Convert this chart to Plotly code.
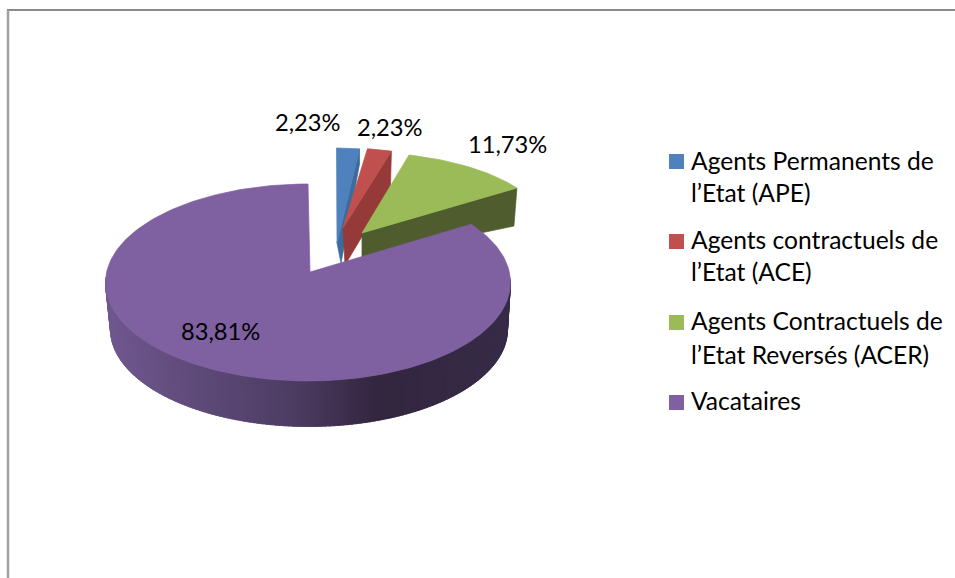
import numpy as np
import plotly.graph_objects as go

# ---- data ----
categories = ["Agents Permanents de l’Etat (APE)", "Agents contractuels de l’Etat (ACE)",
              "Agents Contractuels de l’Etat Reversés (ACER)", "Vacataires"]
values = [2.23, 2.23, 11.73, 83.81]
legend_lines = [["Agents Permanents de", "l’Etat (APE)"],
                ["Agents contractuels de", "l’Etat (ACE)"],
                ["Agents Contractuels de", "l’Etat Reversés (ACER)"],
                ["Vacataires"]]

# ---- style / projection (pixel space) ----
FONT = "Lato"
FS_LEG = 24.6
FS_LAB = 23.7
TOP = ["#4f81bd", "#c0504d", "#9bbb59", "#7f60a0"]
SIDE = ["#3e6b9e", "#953a38", "#4e5c2e", None]
LABEL_POS = [(308, 122), (390, 127), (507, 144), (220, 331)]
LEG_SQ_Y = [161.5, 241.5, 322.5, 402.5]
LEG_TXT_Y = [[160, 192], [239, 271], [320, 354], [400]]

PROJ = [
    dict(c=(336.5, 239), r=(165, 91), apex=(337, 243), d_out=(0, 15), d_apex=(4, 20)),
    dict(c=(343, 228), r=(175, 80), apex=(343, 228), d_out=(-1, 38), d_apex=(2, 37)),
    dict(c=(357, 228), r=(188, 76), apex=(362, 233), d_out=(-3, 38), d_apex=(0, 25)),
    dict(c=(308, 282.5), r=(202.5, 98.5), apex=(310, 272), shift=-4.6),
]
BOTTOM = dict(c=(309, 329.5), r=(198.5, 97))
WALL_STOPS = [(110, (0x70, 0x58, 0x90)), (300, (0x4b, 0x3b, 0x60)),
              (375, (0x33, 0x26, 0x3f)), (510, (0x37, 0x2c, 0x48))]


def ell(g, t):
    t = np.radians(t)
    return g["c"][0] + g["r"][0] * np.sin(t), g["c"][1] - g["r"][1] * np.cos(t)


def poly(x, y, color, lw=0.7):
    return go.Scatter(x=list(x), y=list(y), mode="lines", fill="toself", fillcolor=color,
                      line=dict(color=color, width=lw), hoverinfo="skip", showlegend=False)


fig = go.Figure()

# slice angles come from the values
fracs = np.array(values) / sum(values) * 360
starts = np.concatenate([[0], np.cumsum(fracs)[:-1]])
ends = np.cumsum(fracs)

# exploded slices: cut face first, then top
for i in range(3):
    g = PROJ[i]
    t = np.linspace(starts[i], ends[i], 30)
    ox, oy = ell(g, t)
    ax, ay = g["apex"]
    fig.add_trace(poly([ax, ox[-1], ox[-1] + g["d_out"][0], ax + g["d_apex"][0], ax],
                       [ay, oy[-1], oy[-1] + g["d_out"][1], ay + g["d_apex"][1], ay], SIDE[i]))
    fig.add_trace(poly(np.r_[ax, ox, ax], np.r_[ay, oy, ay], TOP[i]))

# large slice wall with a horizontal shading
g = PROJ[3]
sx = [s[0] for s in WALL_STOPS]
edges = np.linspace(88, 272, 141)
for a, b in zip(edges[:-1], edges[1:]):
    seg = np.linspace(a, b + 1.0, 3)
    x1, y1 = ell(g, seg)
    x2, y2 = ell(BOTTOM, seg)
    xm = x2.mean()
    rgb = [np.interp(xm, sx, [s[1][k] for s in WALL_STOPS]) for k in range(3)]
    col = "rgb(%d,%d,%d)" % tuple(rgb)
    fig.add_trace(poly(np.r_[x1, x2[::-1], x1[0]], np.r_[y1, y2[::-1], y1[0]], col, lw=0.7))

# large slice top
t = np.linspace(0, 1, 240)
theta = starts[3] + g["shift"] * (1 - t) + (ends[3] - starts[3] - g["shift"] * (1 - t)) * t
ox, oy = ell(g, theta)
ax, ay = g["apex"]
fig.add_trace(poly(np.r_[ax, ox, ax], np.r_[ay, oy, ay], TOP[3]))

# legend swatches
fig.add_trace(go.Scatter(x=[676.5] * 4, y=LEG_SQ_Y, mode="markers", hoverinfo="skip", showlegend=False,
                         marker=dict(symbol="square", size=15, color=TOP, line=dict(width=0))))

ann = []
for v, (x, y) in zip(values, LABEL_POS):
    ann.append(dict(x=x, y=y, text=f"{v:.2f}%".replace(".", ","), showarrow=False,
                    xanchor="center", yanchor="middle", font=dict(family=FONT, size=FS_LAB, color="#000")))
for lines, ys in zip(legend_lines, LEG_TXT_Y):
    for s, y in zip(lines, ys):
        ann.append(dict(x=689, y=y, text=s, showarrow=False, xanchor="left", yanchor="middle",
                        font=dict(family=FONT, size=FS_LEG, color="#000")))

fig.update_layout(
    width=955, height=578, margin=dict(l=0, r=0, t=0, b=0), autosize=False,
    paper_bgcolor="white", plot_bgcolor="white", showlegend=False, annotations=ann,
    xaxis=dict(range=[0, 955], visible=False, fixedrange=True),
    yaxis=dict(range=[578, 0], visible=False, fixedrange=True),
    shapes=[
        dict(type="line", xref="x", yref="y", x0=7, x1=955, y0=10, y1=10, line=dict(color="#8a8a8a", width=2)),
        dict(type="line", xref="x", yref="y", x0=8, x1=8, y0=10, y1=578, line=dict(color="#a0a0a0", width=2.5)),
    ],
)
fig.write_html("out.html", config=dict(displayModeBar=False),
               post_script="document.body.style.margin='0';document.body.style.overflow='hidden';")
